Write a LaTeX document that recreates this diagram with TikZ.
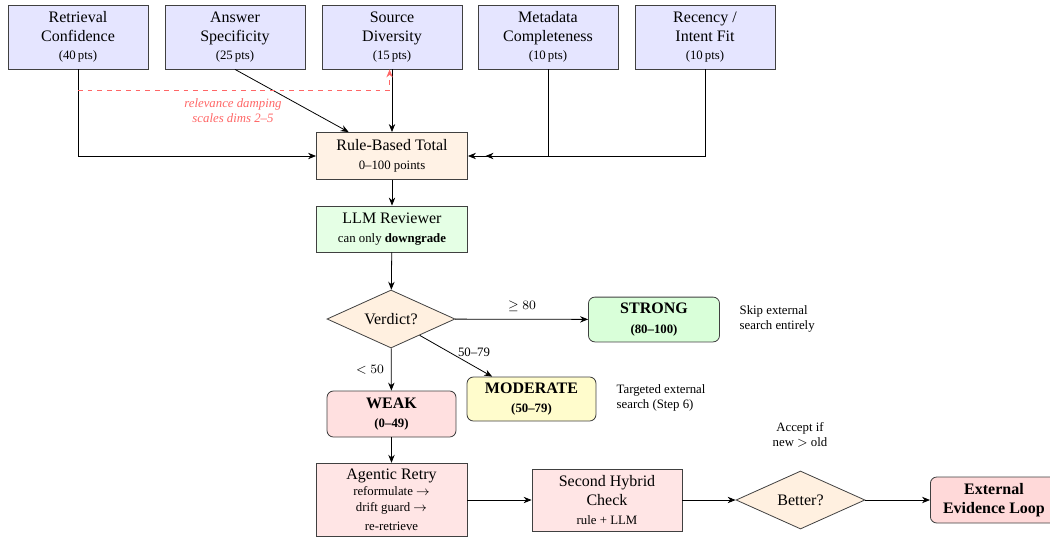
\documentclass[tikz,border=0pt]{standalone}
\usepackage{fontspec}
\setmainfont{Liberation Serif}
\usetikzlibrary{arrows.meta,shapes.geometric,calc}
\begin{document}
\begin{tikzpicture}[x=0.625pt,y=-0.625pt,
  every node/.style={font=\normalsize},
  arr/.style={-{Stealth[length=5pt,width=4pt]},line width=0.5pt},
  dim/.style={draw=black!75,line width=0.5pt,fill=blue!10,minimum width=87.5pt,minimum height=40pt,align=center,inner sep=1pt},
  proc/.style={draw=black!75,line width=0.5pt,align=center,inner sep=2pt},
  res/.style={draw=black!75,line width=0.5pt,rounded corners=4pt,align=center,inner sep=2pt,font=\bfseries\normalsize},
  dec/.style={draw=black!75,line width=0.5pt,diamond,aspect=2.2,inner sep=1pt,fill=orange!12},
  sub/.style={font=\footnotesize},
  note/.style={font=\footnotesize,align=left}
]
\useasboundingbox (0,0) rectangle (1050,536);

% top dimension boxes
\node[dim] (ret) at (78,37) {Retrieval\\Confidence\\[-1pt]{\footnotesize(40\,pts)}};
\node[dim] (ans) at (235,37) {Answer\\Specificity\\[-1pt]{\footnotesize(25\,pts)}};
\node[dim] (src) at (392,37) {Source\\Diversity\\[-1pt]{\footnotesize(15\,pts)}};
\node[dim] (meta) at (548,37) {Metadata\\Completeness\\[-1pt]{\footnotesize(10\,pts)}};
\node[dim] (rec) at (705,37) {Recency /\\Intent Fit\\[-1pt]{\footnotesize(10\,pts)}};

% rule based total
\node[proc,fill=orange!10,minimum width=94.4pt,minimum height=29.4pt] (rule) at (392,156) {Rule-Based Total\\{\footnotesize 0--100 points}};

% LLM reviewer
\node[proc,fill=green!10,minimum width=94.4pt,minimum height=28.75pt] (llm) at (392,229) {LLM Reviewer\\{\footnotesize can only \textbf{downgrade}}};

% verdict
\node[dec,minimum width=80pt,minimum height=36.25pt] (verdict) at (391,319) {Verdict?};

% outcomes
\node[res,fill=green!15,minimum width=81.9pt,minimum height=28pt] (strong) at (654,319.5) {STRONG\\{\footnotesize(80--100)}};
\node[res,fill=yellow!20,minimum width=80.6pt,minimum height=27.5pt] (moderate) at (531.5,399) {MODERATE\\{\footnotesize(50--79)}};
\node[res,fill=red!12,minimum width=80.6pt,minimum height=28.75pt] (weak) at (391.5,414) {WEAK\\{\footnotesize(0--49)}};

\node[note,anchor=west] (skip) at (734,319) {Skip external\\search entirely};
\node[note,anchor=west] (targeted) at (611,398) {Targeted external\\search (Step 6)};

% retry
\node[proc,fill=red!10,minimum width=94.4pt,minimum height=46pt] (retry) at (391.5,500) {Agentic Retry\\[-2pt]{\footnotesize reformulate $\rightarrow$}\\[-2pt]{\footnotesize drift guard $\rightarrow$}\\{\footnotesize re-retrieve}};
\node[proc,fill=red!10,minimum width=93.75pt,minimum height=38.75pt] (second) at (607,500) {Second Hybrid\\Check\\{\footnotesize rule + LLM}};
\node[dec,minimum width=80.6pt,minimum height=36.25pt] (better) at (800.5,500) {Better?};
\node[res,fill=red!15,minimum width=79.4pt,minimum height=28.75pt,anchor=west,inner sep=1pt] (ext) at (930,500) {External\\Evidence Loop};
\node[note,align=center] (accept) at (800,435) {Accept if\\new $>$ old};

% connectors into rule-based total
\coordinate (dampstart) at (78,90);
\draw[arr] (ret.south) |- (rule.west);
\draw[arr] (ans.south) -- (rule);
\draw[arr] (src.south) -- (rule.north);
\draw[arr] (meta.south) |- ([xshift=11pt]rule.east);
\draw[arr] (rec.south) |- (rule.east);

% damping
\draw[red!60,dashed,line width=0.6pt,-{Stealth[length=5pt,width=4pt]}] (dampstart) -| ([xshift=-1.5]src.south);
\node[font=\footnotesize\itshape,text=red!60,align=center] (damp) at (233,111) {relevance damping\\scales dims 2--5};

% flow
\draw[arr] (rule) -- (llm);
\draw[arr] (llm) -- (verdict);
\draw[arr] (verdict) -- (strong);
\draw[arr] (verdict) -- (moderate);
\draw[arr] (verdict) -- (weak);
\draw[arr] (weak) -- (retry);
\draw[arr] (retry) -- (second);
\draw[arr] (second) -- (better);
\draw[arr] (better) -- (ext);

% labels
\node[sub] (lstrong) at (522,306) {$\geq 80$};
\node[sub] (lmod) at (474,352) {50--79};
\node[sub] (lweak) at (370,370) {$<50$};
\end{tikzpicture}
\end{document}
